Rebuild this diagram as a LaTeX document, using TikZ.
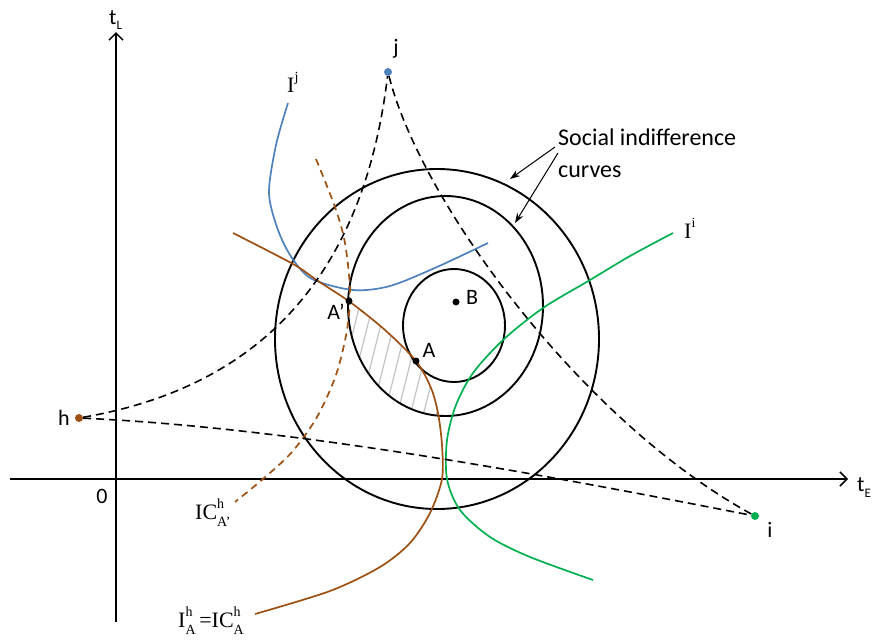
\documentclass[tikz,border=0pt]{standalone}
\usepackage{fontspec}
\setmainfont{Liberation Serif}
\newfontfamily\calfont{Carlito}
\usetikzlibrary{arrows.meta}
\definecolor{brownc}{RGB}{158,80,18}
\definecolor{bluec}{RGB}{79,129,189}
\definecolor{greenc}{RGB}{0,176,80}
\newcommand\ssb[2]{\rlap{\raisebox{0.5em}{\fontsize{14}{14}\selectfont #1}}\raisebox{-0.35em}{\fontsize{14}{14}\selectfont #2}}
\newcommand\supr[1]{\raisebox{0.5em}{\fontsize{14}{14}\selectfont #1}}
\tikzset{
  axisline/.style={line width=1.5pt,-{Straight Barb[length=7pt,width=14pt,line width=1.5pt]}},
  dotn/.style={circle,inner sep=0pt,minimum size=8pt},
  dashline/.style={line width=1.6pt,dash pattern=on 8pt off 5pt},
  circ/.style={line width=1.9pt},
  curveline/.style={line width=1.7pt},
  lbl/.style={font=\calfont\fontsize{22}{26}\selectfont,inner sep=0pt},
  tlbl/.style={font=\fontsize{22}{24}\selectfont,inner sep=0pt},
  hatchline/.style={line width=1.3pt,gray!45},
  ptr/.style={line width=1pt,-{Stealth[length=10pt,width=7pt]}}
}
\begin{document}
\begin{tikzpicture}[x=1pt,y=-1pt]
\useasboundingbox (0,0) rectangle (873,640);
% axes
\coordinate (xs) at (10,479);
\coordinate (xe) at (848,479);
\coordinate (ys) at (116,622);
\coordinate (ye) at (116,32);
\draw[axisline] (xs) -- (xe);
\draw[axisline] (ys) -- (ye);
\node[lbl,anchor=base west] (tl) at (109,24) {t\raisebox{-0.25em}{\fontsize{13}{13}\selectfont L}};
\node[lbl,anchor=base west] (te) at (857,491) {t\raisebox{-0.3em}{\fontsize{13}{13}\selectfont E}};
\node[lbl] (zero) at (102,496) {0};
% hatch
\begin{scope}
\clip (445.5,306) ellipse [x radius=97.5, y radius=110];
\clip plot[smooth] coordinates {(233,233) (293,264) (318,281) (350,302) (385,330) (416,361) (431,388) (438,413) (442,445) (442,479) (430,513)} -- (200,513) -- (200,233) -- cycle;
\foreach \k in {0,...,18} \draw[hatchline] (300+\k*13,440) -- ++(40,-160);
\end{scope}
% circles
\draw[circ] (437,339) ellipse [x radius=162, y radius=170];
\draw[circ] (445.5,306) ellipse [x radius=97.5, y radius=110];
\draw[circ] (454,325.5) ellipse [x radius=51, y radius=56.5];
% blue curve
\draw[curveline,bluec] plot[smooth] coordinates {(288,103) (276,145) (269,193) (278,230) (292,258) (312,279) (353,290) (390,286) (437,267) (488,243)};
% brown solid
\draw[curveline,brownc] plot[smooth] coordinates {(233,233) (293,264) (318,281) (350,302) (385,330) (416,361) (431,388) (438,413) (442,445) (442,479) (430,513) (410,543) (380,567) (330,591) (255,614)};
% brown dashed
\draw[curveline,brownc,dash pattern=on 7pt off 5pt] plot[smooth] coordinates {(316,159) (335,207) (345,243) (350,290) (347,330) (336,375) (317,417) (292,452) (263,479) (235,502)};
% green
\draw[curveline,greenc] plot[smooth] coordinates {(673,233) (630,256) (590,280) (543,308) (503,340) (473,373) (456,405) (447,440) (447,479) (460,510) (490,537) (530,557) (593,580)};
% agents
\node[dotn,fill=brownc] (h) at (79,418) {};
\node[dotn,fill=bluec] (j) at (388,72) {};
\node[dotn,fill=greenc] (i) at (755,516) {};
\node[lbl] (hl) at (64,418) {h};
\node[lbl] (jl) at (396,49) {j};
\node[lbl] (il) at (770,530) {i};
\draw[dashline] (j) .. controls (420,200) and (580,420) .. (i);
\draw[dashline] (h) .. controls (300,428) and (560,478) .. (i);
\draw[dashline] (h) .. controls (270,385) and (365,265) .. (j);
% points
\node[dotn,minimum size=7pt,fill=black] (B) at (456,302) {};
\node[dotn,minimum size=7pt,fill=black] (A) at (416,361) {};
\node[dotn,minimum size=7pt,fill=black] (Ap) at (349,301) {};
\node[lbl] (Bl) at (472,297) {B};
\node[lbl] (Al) at (429,350) {A};
\node[lbl] (Apl) at (336,312) {A’};
% labels
\node[tlbl,anchor=base west] (Ij) at (287,92) {I\supr{j}};
\node[tlbl,anchor=base west] (Ii) at (684,238) {I\supr{i}};
\node[tlbl,anchor=base west] (ICA) at (195,519) {IC\ssb{h}{A’}};
\node[tlbl,anchor=base west] (IA) at (178,627) {I\ssb{h}{A}\,=IC\ssb{h}{A}};
% social
\node[lbl,anchor=base west,align=left,font=\calfont\fontsize{24}{32}\selectfont] (soc) at (558,177) {Social indifference\\curves};
\coordinate (s1) at (555,147);
\coordinate (s2) at (558,153);
\coordinate (e1) at (510,179);
\coordinate (e2) at (515,223);
\draw[ptr] (s1) -- (e1);
\draw[ptr] (s2) -- (e2);
\end{tikzpicture}
\end{document}
